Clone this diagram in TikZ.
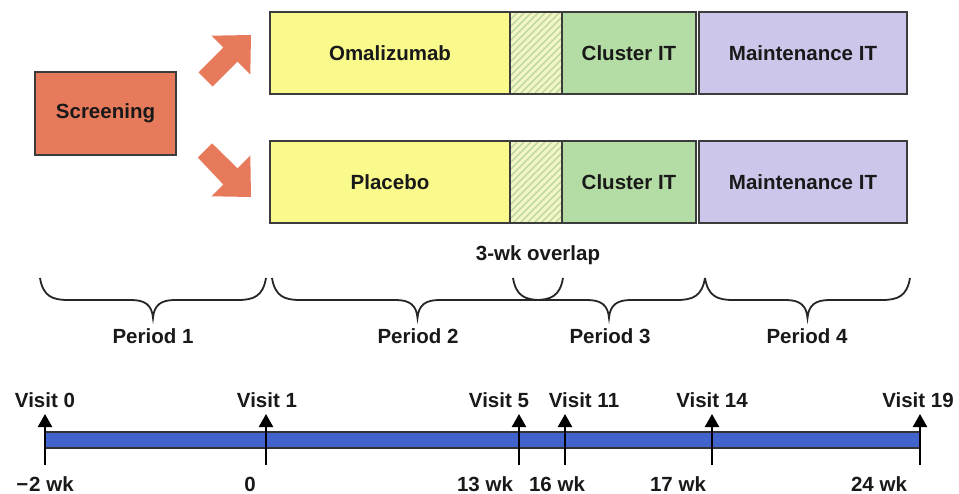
\documentclass[tikz,border=0pt]{standalone}
\usepackage{fontspec}
\setmainfont{Liberation Sans}
\usetikzlibrary{arrows.meta}
\definecolor{scr}{RGB}{232,122,92}
\definecolor{yel}{RGB}{250,249,140}
\definecolor{grn}{RGB}{180,220,165}
\definecolor{pur}{RGB}{204,198,234}
\definecolor{hatchbg}{RGB}{240,246,200}
\definecolor{hatchln}{RGB}{186,212,146}
\definecolor{bar}{RGB}{66,98,204}
\definecolor{edge}{RGB}{60,60,60}
\definecolor{txt}{RGB}{25,25,25}
\begin{document}
\begin{tikzpicture}[x=1pt,y=-1pt,
  lbl/.style={font=\fontsize{20.5}{24}\selectfont\bfseries,text=txt,inner sep=0pt},
  boxst/.style={draw=edge,line width=1.4pt,inner sep=0pt,lbl},
  bracest/.style={draw=black!85,line width=1.8pt},
  blockarrow/.style={fill=scr,draw=none},
  visitarrow/.style={draw=black,line width=2.4pt,-{Triangle[width=14pt,length=13pt]}}]
\useasboundingbox (0,0) rectangle (959,494);

% Screening
\node[boxst,fill=scr,minimum width=141pt,minimum height=83pt] (scr) at (105.5,113.5) {Screening};

% block arrows
\fill[blockarrow] (198.4,72.4) -- (212.6,86.6) -- (237.5,61.7) -- (250.3,74.5) -- (251,35) -- (211.5,35.7) -- (223.3,47.5) -- cycle;
\fill[blockarrow] (197.9,157.6) -- (212.1,143.4) -- (237.5,168.3) -- (250.3,155.5) -- (251,197) -- (211.5,196.3) -- (223.3,184.5) -- cycle;

% top row
\node[boxst,fill=yel,minimum width=240pt,minimum height=82pt] (om) at (390,53) {Omalizumab};
\begin{scope}
\clip (510,12) rectangle (562,94);
\fill[hatchbg] (510,12) rectangle (562,94);
\foreach \i in {-105,-98,...,70} {\draw[hatchln,line width=1.1pt] (500+\i,100) -- (500+\i+95,5);}
\end{scope}
\node[draw=edge,line width=1.4pt,minimum width=52pt,minimum height=82pt,inner sep=0pt] (h1) at (536,53) {};
\node[boxst,fill=grn,minimum width=134pt,minimum height=82pt] (c1) at (629,53) {Cluster IT};
\node[boxst,fill=pur,minimum width=208pt,minimum height=82pt] (m1) at (803,53) {Maintenance IT};

% bottom row
\node[boxst,fill=yel,minimum width=240pt,minimum height=82pt] (pl) at (390,182) {Placebo};
\begin{scope}
\clip (510,141) rectangle (562,223);
\fill[hatchbg] (510,141) rectangle (562,223);
\foreach \i in {-105,-98,...,70} {\draw[hatchln,line width=1.1pt] (500+\i,229) -- (500+\i+95,134);}
\end{scope}
\node[draw=edge,line width=1.4pt,minimum width=52pt,minimum height=82pt,inner sep=0pt] (h2) at (536,182) {};
\node[boxst,fill=grn,minimum width=134pt,minimum height=82pt] (c2) at (629,182) {Cluster IT};
\node[boxst,fill=pur,minimum width=208pt,minimum height=82pt] (m2) at (803,182) {Maintenance IT};

% overlap label
\node[lbl] (ov) at (538,255) {3-wk overlap};

% braces
\foreach \a/\b in {40/266,272/563,513/705,705/910}{
  \pgfmathsetmacro\m{(\a+\b)/2}
  \draw[bracest] (\a,278) .. controls (\a+3,296) and (\a+12,300) .. (\a+28,300)
    -- (\m-22,300) .. controls (\m-8,300) and (\m-1,305) .. (\m,318)
    .. controls (\m+1,305) and (\m+8,300) .. (\m+22,300)
    -- (\b-28,300) .. controls (\b-12,300) and (\b-3,296) .. (\b,278);
}
\node[lbl] (p1) at (153,336) {Period 1};
\node[lbl] (p2) at (418,336) {Period 2};
\node[lbl] (p3) at (610,336) {Period 3};
\node[lbl] (p4) at (807,336) {Period 4};

% timeline
\node[draw=black!80,line width=1.2pt,fill=bar,minimum width=875pt,minimum height=16pt,inner sep=0pt] (bar) at (482.5,440) {};

\foreach \n/\x in {v0/45,v1/266,v5/519,v11/565,v14/712,v19/920}{
  \coordinate (\n b) at (\x,465);
  \coordinate (\n t) at (\x,414);
  \draw[visitarrow] (\n b) -- (\n t);
}
\node[lbl] (l0) at (45,400) {Visit 0};
\node[lbl] (l1) at (267,400) {Visit 1};
\node[lbl] (l5) at (499,400) {Visit 5};
\node[lbl] (l11) at (584,400) {Visit 11};
\node[lbl] (l14) at (712,400) {Visit 14};
\node[lbl] (l19) at (918,400) {Visit 19};

\node[lbl] (w0) at (45,484) {−\kern1pt2 wk};
\node[lbl] (w1) at (250,484) {0};
\node[lbl] (w5) at (485,484) {13 wk};
\node[lbl] (w11) at (557,484) {16 wk};
\node[lbl] (w14) at (678,484) {17 wk};
\node[lbl] (w19) at (879,484) {24 wk};
\end{tikzpicture}
\end{document}
